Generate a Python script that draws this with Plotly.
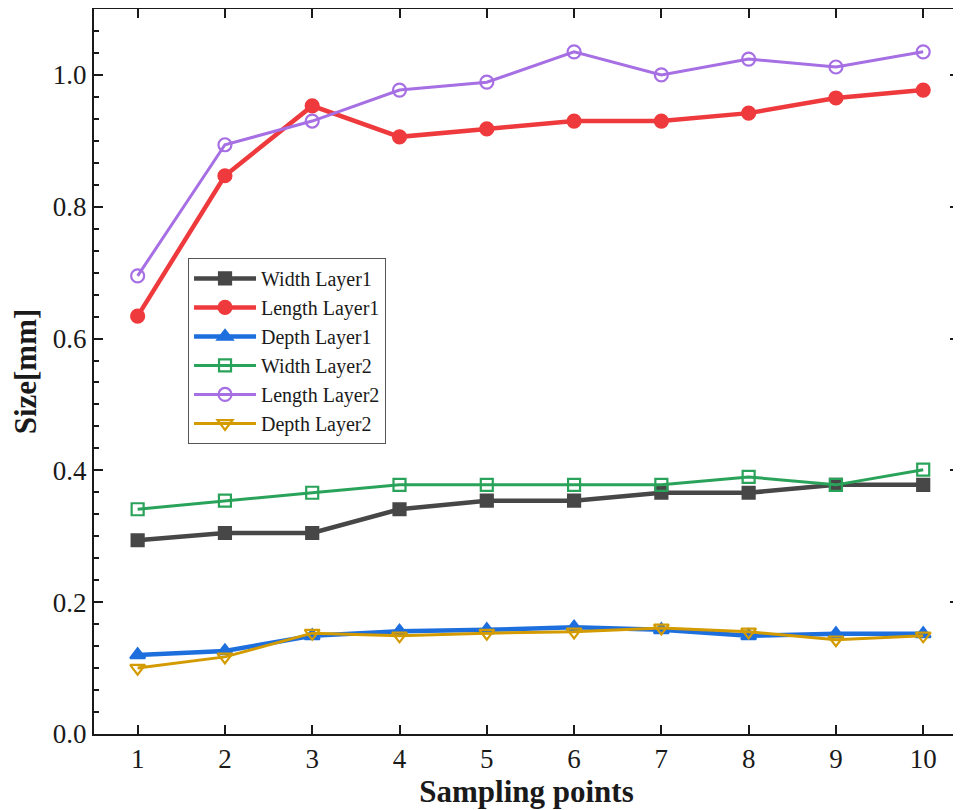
import plotly.graph_objects as go

x_points = [1, 2, 3, 4, 5, 6, 7, 8, 9, 10]
width_layer1 = [0.294, 0.305, 0.305, 0.341, 0.354, 0.354, 0.366, 0.366, 0.378, 0.378]
length_layer1 = [0.634, 0.847, 0.953, 0.906, 0.918, 0.930, 0.930, 0.942, 0.965, 0.977]
depth_layer1 = [0.120, 0.126, 0.149, 0.156, 0.158, 0.162, 0.158, 0.149, 0.152, 0.152]
width_layer2 = [0.341, 0.354, 0.366, 0.378, 0.378, 0.378, 0.378, 0.390, 0.378, 0.401]
length_layer2 = [0.695, 0.894, 0.930, 0.977, 0.989, 1.035, 1.000, 1.024, 1.012, 1.035]
depth_layer2 = [0.100, 0.117, 0.153, 0.149, 0.153, 0.155, 0.161, 0.155, 0.143, 0.149]

series = [
    ("Width Layer1", width_layer1, "#474747", "square", 4.5, 12),
    ("Length Layer1", length_layer1, "#ef3a3d", "circle", 4.5, 13),
    ("Depth Layer1", depth_layer1, "#1e6fde", "triangle-up", 4.5, 13),
    ("Width Layer2", width_layer2, "#2aa35a", "square-open", 3, 12),
    ("Length Layer2", length_layer2, "#a66fe3", "circle-open", 3, 13),
    ("Depth Layer2", depth_layer2, "#d39b00", "triangle-down-open", 3, 13),
]

fig = go.Figure()
for name, vals, color, sym, lw, ms in series:
    fig.add_trace(go.Scatter(
        x=x_points, y=vals, name=name, mode="lines+markers",
        line=dict(color=color, width=lw),
        marker=dict(symbol=sym, size=ms, color=color,
                    line=dict(color=color, width=2.2)),
    ))

axis_common = dict(
    showline=True, linecolor="#1a1a1a", linewidth=2, mirror="ticks",
    ticks="inside", ticklen=9, tickwidth=2, tickcolor="#1a1a1a",
    showgrid=False, zeroline=False, automargin=False,
    tickfont=dict(family="Liberation Serif", size=27, color="#1a1a1a"),
)

fig.update_xaxes(
    range=[0.5, 10.41], tickvals=x_points, **axis_common,
    title=dict(text="<b>Sampling points</b>", standoff=2,
               font=dict(family="Liberation Serif", size=31, color="#1a1a1a")),
)
fig.update_yaxes(
    range=[0, 1.1], tickvals=[0.0, 0.2, 0.4, 0.6, 0.8, 1.0], tickformat=".1f",
    minor=dict(dtick=0.2 / 6, ticks="inside", ticklen=5, tickwidth=2, tickcolor="#1a1a1a"),
    **axis_common,
    title=dict(text="<b>Size[mm]</b>", standoff=10,
               font=dict(family="Liberation Serif", size=31, color="#1a1a1a")),
)

fig.update_layout(
    width=953, height=802,
    margin=dict(l=86, r=2, t=1, b=76),
    paper_bgcolor="white", plot_bgcolor="white",
    showlegend=True,
    legend=dict(
        x=0.1087, y=0.6566, xanchor="left", yanchor="top",
        bordercolor="#555555", borderwidth=1, bgcolor="white",
        font=dict(family="Liberation Serif", size=20, color="#1a1a1a"),
        tracegroupgap=0, itemwidth=62,
    ),
)

fig.write_html("out.html")
